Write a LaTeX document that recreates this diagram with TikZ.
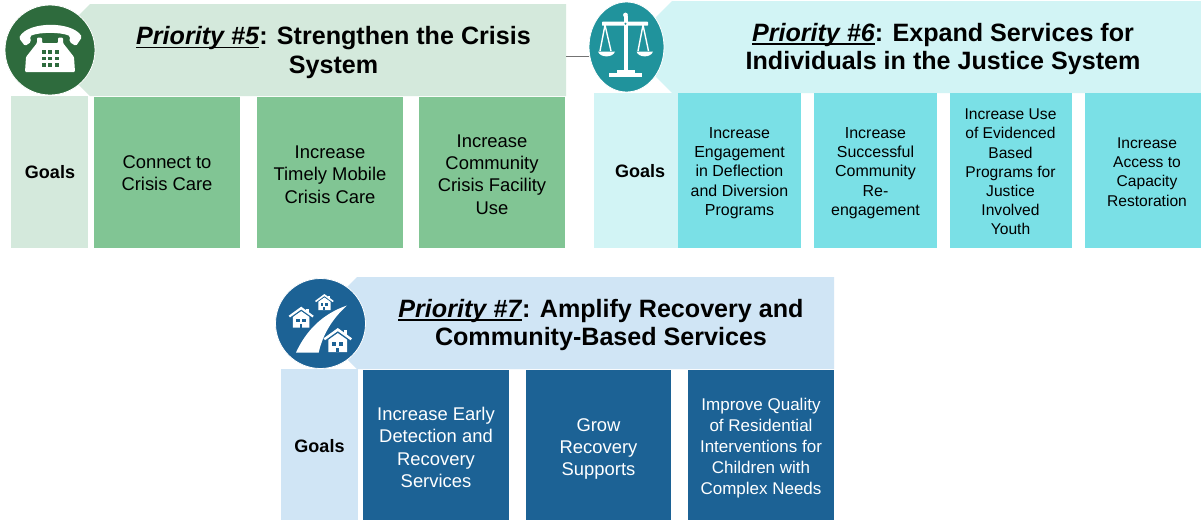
\documentclass[tikz,border=0pt]{standalone}
\usepackage{fontspec}
\setmainfont{Liberation Sans}
\usetikzlibrary{shapes.geometric}
\definecolor{gLight}{HTML}{D4E9DC}
\definecolor{gMid}{HTML}{81C594}
\definecolor{gDark}{HTML}{2E6B3D}
\definecolor{tLight}{HTML}{D2F4F5}
\definecolor{tMid}{HTML}{7AE0E6}
\definecolor{tDark}{HTML}{20939C}
\definecolor{bLight}{HTML}{D0E5F5}
\definecolor{bDark}{HTML}{1C6295}
\newcommand{\thickul}[1]{\setbox0\hbox{#1}\rlap{\rule[-3.6pt]{\wd0}{1.7pt}}\box0}
\newcommand{\titletext}[2]{\textbf{\thickul{\textit{Priority \##1}}: #2}}
\newcommand{\housemark}[5]{% x y xscale yscale colour
  \begin{scope}[shift={(#1,#2)},xscale=#3,yscale=#4]
    \fill[white] (-.66,-.02) -- (0,-.58) -- (.66,-.02) -- (.66,1) -- (-.66,1) -- cycle;
    \fill[white] (.42,-.8) rectangle (.64,-.3);
    \fill[#5] (-.4,.16) rectangle (-.1,.5);
    \fill[#5] (.1,.16) rectangle (.4,.5);
    \fill[#5] (-.1,.66) rectangle (.1,1);
    \fill[#5] (-.8,-.2) -- (0,-.9) -- (.8,-.2) -- (.8,-.02) -- (0,-.62) -- (-.8,-.02) -- cycle;
    \fill[white] (-1,-.14) -- (0,-1) -- (1,-.14) -- (.9,.02) -- (0,-.74) -- (-.9,.02) -- cycle;
  \end{scope}}
\tikzset{
  x=1pt,y=-1pt,
  headtext/.style={font=\fontsize{25.1}{28.4}\selectfont,align=center,text=black,inner sep=0pt},
  goalbox/.style={minimum width=#1,inner sep=0pt,outer sep=0pt,anchor=north west,align=center},
  goallabel/.style={font=\fontsize{18}{22}\selectfont\bfseries,text=black},
  big/.style={font=\fontsize{18.4}{22.4}\selectfont},
  small/.style={font=\fontsize{15.6}{19.2}\selectfont},
  smallb/.style={font=\fontsize{15.95}{19.3}\selectfont},
  mid/.style={font=\fontsize{17}{20.8}\selectfont},
  badge/.style={ellipse,draw=white,line width=.8pt,inner sep=0pt,outer sep=0pt},
  link/.style={draw=black!55,line width=.8pt},
  lbl/.style={inner sep=0pt,align=center},
}
\begin{document}
\begin{tikzpicture}
\useasboundingbox (0,0) rectangle (1201,520);
\fill[white] (0,0) rectangle (1201,520);

% ---------- Priority 5
\fill[gLight] (90,4) -- (566,4) -- (566,96) -- (90,96) -- (44,50) -- cycle;
\node[coordinate] (h5) at (566,50) {};
\node[headtext] (t5) at (333.5,52.5) {\titletext{5}{Strengthen the Crisis}\\\textbf{System}};
\node[badge,fill=gDark,minimum width=90pt,minimum height=90pt] (c5) at (50,50) {};
% phone
\fill[white,rounded corners=1.5pt] (19,38) .. controls (28,21) and (72,21) .. (82,37)
   -- (76,46) -- (69.5,42) -- (70,36) .. controls (60,32) and (40,32) .. (30,36) -- (31,42) -- (25,46) -- cycle;
\fill[white,rounded corners=1pt] (37,37.5) -- (42,37.5) -- (42,43) -- (58,43) -- (58,37.5) -- (63,37.5) -- (63,43) -- (74,57) -- (75,72) -- (25,72) -- (26,57) -- (37,43) -- cycle;
\foreach \px in {43.5,50,56.5}\foreach \py in {52,58.5,65}{\fill[gDark] (\px-2,\py-1.9) rectangle (\px+2,\py+1.9);}

\node[goalbox=77pt,fill=gLight,minimum height=152pt] (g5) at (11,96) {};
\node[lbl,goallabel] at (50,172) {Goals};
\node[goalbox=146pt,fill=gMid,minimum height=151pt] (b51) at (94,97) {};
\node[lbl,big] at (167,173.2) {Connect to\\Crisis Care};
\node[goalbox=146pt,fill=gMid,minimum height=151pt] (b52) at (257,97) {};
\node[lbl,big] at (330,174.4) {Increase\\Timely Mobile\\Crisis Care};
\node[goalbox=146pt,fill=gMid,minimum height=151pt] (b53) at (419,97) {};
\node[lbl,big] at (492,174.4) {Increase\\Community\\Crisis Facility\\Use};

% ---------- Priority 6
\fill[tLight] (672,1) -- (1201,1) -- (1201,93) -- (672,93) -- (626,47) -- cycle;
\node[headtext] (t6) at (943,49) {\titletext{6}{Expand Services for}\\\textbf{Individuals in the Justice System}};
\node[badge,fill=tDark,minimum width=75pt,minimum height=90pt] (c6) at (626.5,47) {};
% scales
\fill[white] (623.5,16) rectangle (627.5,71);
\fill[white] (625.5,15) circle (2.4);
\fill[white,rounded corners=.6pt] (602,21.7) rectangle (648,25.7);
\fill[tDark] (625.5,23.7) circle (1.1);
\fill[white] (617,69.5) rectangle (635,73.5);
\fill[white] (609,73) rectangle (642,77);
\draw[white,line width=1.4pt] (605,25) -- (600,51) (605,25) -- (611,51) (643,25) -- (638,51) (643,25) -- (648.5,51);
\fill[white] (598,51.5) -- (615,51.5) .. controls (613,58) and (600,58) .. (598,51.5) -- cycle;
\fill[white] (636.5,51.5) -- (653,51.5) .. controls (651,58) and (638.5,58) .. (636.5,51.5) -- cycle;

\node[goalbox=85pt,fill=tLight,minimum height=155pt] (g6) at (594,93) {};
\node[lbl,goallabel] at (640,171) {Goals};
\node[goalbox=123pt,fill=tMid,minimum height=155pt] (b61) at (678,93) {};
\node[lbl,smallb] at (739.5,173) {Increase\\Engagement\\in Deflection\\and Diversion\\Programs};
\node[goalbox=123pt,fill=tMid,minimum height=155pt] (b62) at (814,93) {};
\node[lbl,smallb] at (875.5,173) {Increase\\Successful\\Community\\Re-\\engagement};
\node[goalbox=122pt,fill=tMid,minimum height=155pt] (b63) at (950,93) {};
\node[lbl,small] at (1010.5,172) {Increase Use\\of Evidenced\\Based\\Programs for\\Justice\\Involved\\Youth};
\node[goalbox=116pt,fill=tMid,minimum height=155pt] (b64) at (1085,93) {};
\node[lbl,small] at (1147,172) {Increase\\Access to\\Capacity\\Restoration};

\coordinate (linky) at (0,56.3);
\draw[link] (h5 |- linky) -- (c6.west |- linky);

% ---------- Priority 7
\fill[bLight] (357,277) -- (834,277) -- (834,369) -- (357,369) -- (311,323) -- cycle;
\node[headtext] (t7) at (601,325) {\titletext{7}{Amplify Recovery and}\\\textbf{Community-Based Services}};
\node[badge,fill=bDark,minimum width=90pt,minimum height=90pt] (c7) at (320.5,323.5) {};
% road and houses
\fill[white] (296,352.5) .. controls (306,331) and (322,314) .. (347,305.5) .. controls (334,317) and (323,333) .. (318.7,352.5) -- cycle;
\housemark{301.2}{317.2}{12.5}{10.5}{bDark}
\housemark{324.4}{302}{9.3}{8}{bDark}
\housemark{337.8}{340}{14.2}{12}{bDark}

\node[goalbox=77pt,fill=bLight,minimum height=151pt] (g7) at (281,369) {};
\node[lbl,goallabel] at (319.5,446) {Goals};
\node[goalbox=146pt,fill=bDark,minimum height=150pt] (b71) at (363,370) {};
\node[lbl,big,text=white] at (436,447.5) {Increase Early\\Detection and\\Recovery\\Services};
\node[goalbox=145pt,fill=bDark,minimum height=150pt] (b72) at (526,370) {};
\node[lbl,big,text=white] at (598.5,449) {Grow\\Recovery\\Supports};
\node[goalbox=146pt,fill=bDark,minimum height=150pt] (b73) at (688,370) {};
\node[lbl,mid,text=white] at (761,448) {Improve Quality\\of Residential\\Interventions for\\Children with\\Complex Needs};
\end{tikzpicture}
\end{document}
